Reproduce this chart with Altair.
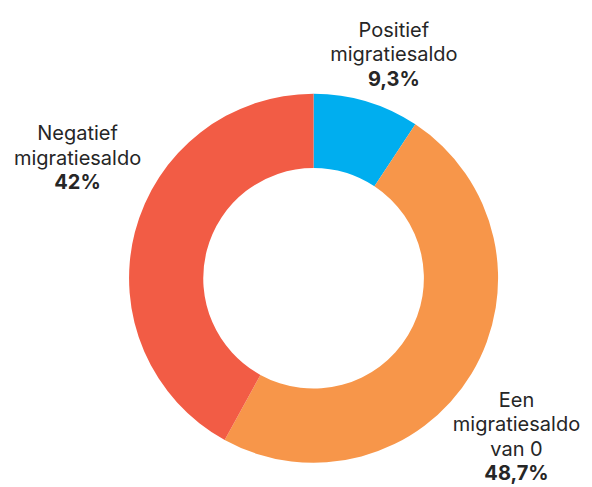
import altair as alt
import pandas as pd

categories = ["Positief migratiesaldo", "Een migratiesaldo van 0", "Negatief migratiesaldo"]
name_labels = ["Positief\nmigratiesaldo", "Een\nmigratiesaldo\nvan 0", "Negatief\nmigratiesaldo"]
values = [9.3, 48.7, 42.0]
pct_labels = ["9,3%", "48,7%", "42%"]
colors = ["#00AEEF", "#F7964A", "#F25C45"]

df = pd.DataFrame({
    "category": categories,
    "name": name_labels,
    "value": values,
    "pct": pct_labels,
    "order": list(range(len(categories))),
})

FONT = "Inter"
TXT = "#262626"
LH = 25
R = 230
FS = 20.5

arc = alt.Chart(df).mark_arc(innerRadius=113, outerRadius=189).encode(
    theta=alt.Theta("value:Q", stack=True),
    order=alt.Order("order:Q"),
    color=alt.Color("category:N", scale=alt.Scale(domain=categories, range=colors), legend=None),
)

base = (
    alt.Chart(df)
    .transform_joinaggregate(total="sum(value)")
    .transform_window(cum="sum(value)", sort=[alt.SortField("order")], frame=[None, 0])
    .transform_calculate(mid="2*PI*(datum.cum - datum.value/2)/datum.total")
)

# per-label offsets (dx, dy) from the mid-angle anchor, and number of name lines
offsets = [(16, -27, 2), (11, 13, 3), (-19, -84, 2)]

layers = [arc]
for i, (dx, dy, n) in enumerate(offsets):
    sub = base.transform_filter(alt.datum.order == i)
    layers.append(
        sub.mark_text(radius=R, dx=dx, dy=dy, align="center", baseline="alphabetic",
                      lineBreak="\n", lineHeight=LH, font=FONT, fontSize=FS, color=TXT)
        .encode(theta=alt.Theta("mid:Q", scale=None), text="name:N")
    )
    layers.append(
        sub.mark_text(radius=R, dx=dx, dy=dy + n * LH, align="center", baseline="alphabetic",
                      font=FONT, fontSize=FS, fontWeight="bold", color=TXT)
        .encode(theta=alt.Theta("mid:Q", scale=None), text="pct:N")
    )

chart = alt.layer(*layers).properties(
    width=500, height=416,
    autosize=alt.AutoSizeParams(type="none"),
    padding={"left": 63, "top": 63, "right": 27, "bottom": 0},
).configure_view(stroke=None)

chart.save("out.html", embed_options={"renderer": "svg", "actions": False})
